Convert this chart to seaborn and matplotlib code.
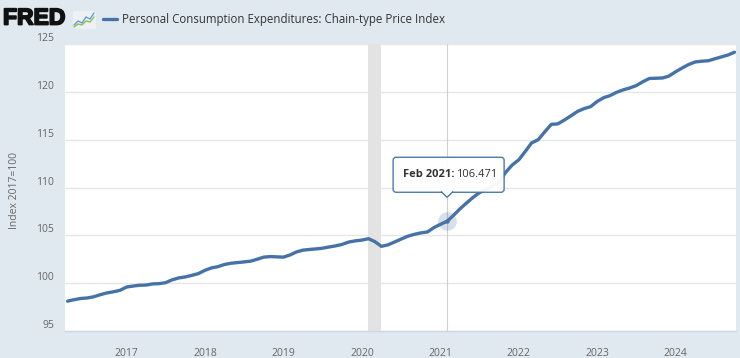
import numpy as np
import pandas as pd
import matplotlib
matplotlib.use("Agg")
import matplotlib.pyplot as plt
import matplotlib.dates as mdates
import matplotlib.patheffects as pe
from matplotlib.patches import FancyBboxPatch, Polygon
from matplotlib.transforms import ScaledTranslation
import seaborn as sns

# ---- data (monthly, Apr 2016 .. Oct 2024), Index 2017=100 ----
start_month = "2016-04-01"
pce_values = [
    98.12, 98.27, 98.40, 98.45, 98.58, 98.80, 98.98, 99.10, 99.25,          # 2016 Apr-Dec
    99.60, 99.70, 99.78, 99.80, 99.92, 99.95, 100.05, 100.35, 100.55, 100.65, 100.82, 101.00,  # 2017
    101.35, 101.60, 101.72, 101.95, 102.08, 102.15, 102.22, 102.30, 102.50, 102.72, 102.78, 102.75,  # 2018
    102.72, 102.95, 103.25, 103.45, 103.52, 103.58, 103.65, 103.78, 103.90, 104.05, 104.30, 104.42,  # 2019
    104.50, 104.65, 104.35, 103.85, 104.00, 104.30, 104.60, 104.90, 105.10, 105.25, 105.35, 105.80,  # 2020
    106.15, 106.471, 107.05, 107.75, 108.35, 108.95, 109.45, 109.80, 110.15, 110.55, 111.60, 112.35,  # 2021
    112.90, 113.80, 114.65, 115.00, 115.80, 116.60, 116.65, 117.05, 117.50, 117.95, 118.25, 118.45,  # 2022
    119.00, 119.40, 119.60, 119.95, 120.20, 120.40, 120.65, 121.05, 121.40, 121.42, 121.45, 121.65,  # 2023
    122.10, 122.50, 122.85, 123.12, 123.20, 123.25, 123.45, 123.65, 123.85, 124.14,                   # 2024 Jan-Oct
]
dates = pd.date_range(start_month, periods=len(pce_values), freq="MS")
df = pd.DataFrame({"date": dates, "value": pce_values})

series_name = "Personal Consumption Expenditures: Chain-type Price Index"
y_title = "Index 2017=100"
y_ticks = [95, 100, 105, 110, 115, 120, 125]
x_years = [2017, 2018, 2019, 2020, 2021, 2022, 2023, 2024]
recession = ("2020-02-01", "2020-04-01")
hover_date = "2021-02-01"
hover_label = "Feb 2021:"
hover_value = "106.471"

# ---- style ----
sns.set_theme(style="white")
plt.rcParams["font.family"] = ["Open Sans", "DejaVu Sans"]
BG = "#e1e9f0"
LINE = "#4572a7"
TXT = "#666666"

W, H = 740, 358
fig = plt.figure(figsize=(W / 100, H / 100), dpi=100, facecolor=BG)
L, R, T, B = 65, 736, 44, 331
ax = fig.add_axes([L / W, 1 - B / H, (R - L) / W, (B - T) / H])
ax.set_facecolor("white")

x_min = pd.Timestamp("2016-03-20")
x_max = pd.Timestamp("2024-10-08")

# recession shading
ax.axvspan(pd.Timestamp(recession[0]), pd.Timestamp(recession[1]), color="#e3e3e3", lw=0, zorder=1)
# grid
for yv in y_ticks:
    ax.axhline(yv, color="#e6e6e6", lw=1, zorder=0.5)
# crosshair
ax.axvline(pd.Timestamp(hover_date), color="#d0d0d0", lw=0.8, zorder=1.5)

sns.lineplot(data=df, x="date", y="value", ax=ax, color=LINE, lw=2.4, zorder=3)

ax.set_xlim(x_min, x_max)
ax.set_ylim(95, 125)
ax.set_yticks(y_ticks)
ax.set_yticklabels([str(v) for v in y_ticks], fontsize=7.5, color=TXT)
ax.set_xticks([pd.Timestamp(f"{y}-01-01") for y in x_years])
ax.set_xticklabels([str(y) for y in x_years], fontsize=7.5, color=TXT)
ax.tick_params(axis="y", length=0, pad=8)
ax.tick_params(axis="x", length=7, width=1, color="#ccd6eb", pad=3, direction="out")
for lab in ax.get_yticklabels():
    lab.set_transform(lab.get_transform() + ScaledTranslation(0, 5 / 72, fig.dpi_scale_trans))
for lab in ax.get_xticklabels():
    lab.set_transform(lab.get_transform() + ScaledTranslation(0, -2 / 72, fig.dpi_scale_trans))
for s in ["top", "right", "left"]:
    ax.spines[s].set_visible(False)
ax.spines["bottom"].set_color("#ccd6eb")
ax.spines["bottom"].set_linewidth(1)
ax.set_xlabel("")
ax.set_ylabel("")
fig.text(15 / W, 1 - 190 / H, y_title, rotation=90, ha="center", va="center", fontsize=7.5, color=TXT)

# hover marker
hx = pd.Timestamp(hover_date)
hy = float(df.loc[df["date"] == hx, "value"].iloc[0])
ax.scatter([hx], [hy], s=180, color=LINE, alpha=0.22, lw=0, zorder=4)
ax.scatter([hx], [hy], s=10, color=LINE, lw=0, zorder=5)

# tooltip
fig.canvas.draw()
px, py = ax.transData.transform((mdates.date2num(hx), hy))
ptip_y = py + 24  # display coords (y up)
bx0, bx1 = px - 54, px + 57
by0, by1 = ptip_y + 5, ptip_y + 40
box = FancyBboxPatch((bx0, by0), bx1 - bx0, by1 - by0, boxstyle="round,pad=0,rounding_size=3",
                     transform=None, facecolor="white", edgecolor=LINE, lw=1, alpha=0.95, zorder=10)
fig.patches.append(box)
tri = Polygon([[px - 6, by0 + 0.8], [px, ptip_y], [px + 6, by0 + 0.8]], closed=False,
              transform=None, facecolor="white", edgecolor=LINE, lw=1, zorder=11)
fig.patches.append(tri)
tri2 = Polygon([[px - 5, by0 + 1.2], [px, ptip_y + 1.5], [px + 5, by0 + 1.2]], closed=True,
               transform=None, facecolor="white", edgecolor="none", zorder=12)
fig.patches.append(tri2)
t1 = fig.text((bx0 + 10) / W, ((by0 + by1) / 2) / H, hover_label, fontsize=8, fontweight="bold",
              color="#333333", ha="left", va="center", zorder=13)
fig.canvas.draw()
bb = t1.get_window_extent()
fig.text((bb.x1 + 1) / W, ((by0 + by1) / 2) / H, hover_value, fontsize=8, color="#333333",
         ha="left", va="center", zorder=13)

# header: FRED logo + legend
fig.text(3 / W, 1 - 18 / H, "FRED", fontsize=16.5, fontweight="bold", color="#111111",
         ha="left", va="center", family=["Liberation Sans", "DejaVu Sans"],
         path_effects=[pe.withStroke(linewidth=1.3, foreground="#111111")])
# small logo chart glyph
lx = [74, 78, 82, 86, 90, 94]
ly1 = [25, 21, 23, 17, 19, 13]
ly2 = [27, 24, 25, 21, 22, 17]
fig.lines.append(plt.Line2D([x / W for x in lx], [1 - y / H for y in ly1], transform=fig.transFigure,
                            color="#6a9bd1", lw=1))
fig.lines.append(plt.Line2D([x / W for x in lx], [1 - y / H for y in ly2], transform=fig.transFigure,
                            color="#8cbf5a", lw=1))
fig.patches.append(FancyBboxPatch((73, H - 29), 23, 18, boxstyle="round,pad=0,rounding_size=2",
                                  transform=None, facecolor="#eef1f4", edgecolor="none", lw=0,
                                  zorder=-1))
fig.lines.append(plt.Line2D([103 / W, 117 / W], [1 - 19 / H, 1 - 19 / H], transform=fig.transFigure,
                            color=LINE, lw=2.4))
fig.text(122 / W, 1 - 19 / H, series_name, fontsize=8.3, color="#333333", ha="left", va="center")

fig.savefig("out.png", dpi=100, facecolor=BG)
